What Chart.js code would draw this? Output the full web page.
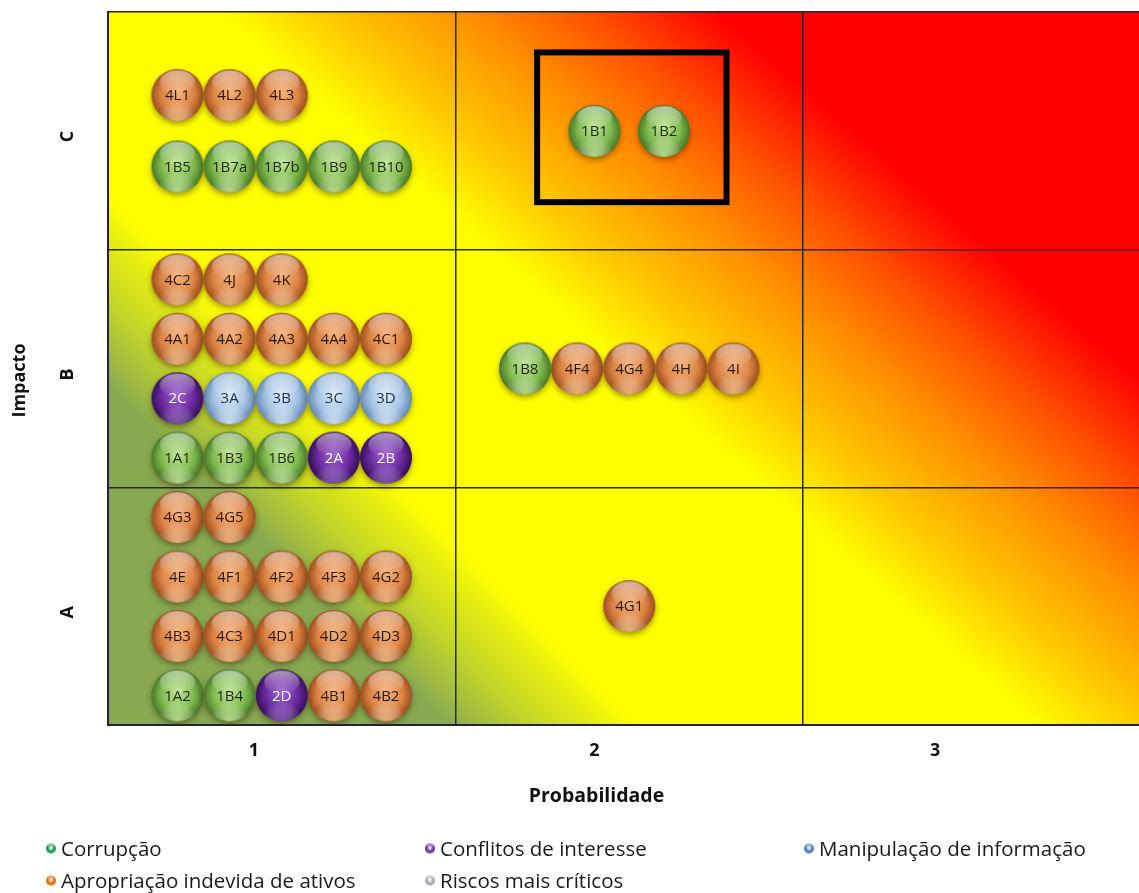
<!DOCTYPE html>
<html lang="pt">
<head>
<meta charset="utf-8">
<title>Matriz de riscos</title>
<script src="https://cdn.jsdelivr.net/npm/chart.js@4.4.1/dist/chart.umd.min.js"></script>
<style>
  html, body { margin: 0; padding: 0; background: #ffffff; }
  #wrap { width: 1139px; height: 893px; position: relative; }
</style>
</head>
<body>
<div id="wrap"><canvas id="matriz"></canvas></div>
<script>
// Rótulos dos eixos
const probabilidadeLabels = ['1', '2', '3'];
const impactoLabels = ['A', 'B', 'C'];

// Riscos por categoria: [código, probabilidade, impacto]
const corrupcao = [
  ['1B5', 0.2, 2.35], ['1B7a', 0.35, 2.35], ['1B7b', 0.5, 2.35], ['1B9', 0.65, 2.35], ['1B10', 0.8, 2.35],
  ['1A1', 0.2, 1.125], ['1B3', 0.35, 1.125], ['1B6', 0.5, 1.125],
  ['1A2', 0.2, 0.125], ['1B4', 0.35, 0.125],
  ['1B8', 1.2, 1.5],
  ['1B1', 1.4, 2.5], ['1B2', 1.6, 2.5]
];
const conflitos = [
  ['2C', 0.2, 1.375], ['2A', 0.65, 1.125], ['2B', 0.8, 1.125], ['2D', 0.5, 0.125]
];
const manipulacao = [
  ['3A', 0.35, 1.375], ['3B', 0.5, 1.375], ['3C', 0.65, 1.375], ['3D', 0.8, 1.375]
];
const apropriacao = [
  ['4L1', 0.2, 2.65], ['4L2', 0.35, 2.65], ['4L3', 0.5, 2.65],
  ['4C2', 0.2, 1.875], ['4J', 0.35, 1.875], ['4K', 0.5, 1.875],
  ['4A1', 0.2, 1.625], ['4A2', 0.35, 1.625], ['4A3', 0.5, 1.625], ['4A4', 0.65, 1.625], ['4C1', 0.8, 1.625],
  ['4G3', 0.2, 0.875], ['4G5', 0.35, 0.875],
  ['4E', 0.2, 0.625], ['4F1', 0.35, 0.625], ['4F2', 0.5, 0.625], ['4F3', 0.65, 0.625], ['4G2', 0.8, 0.625],
  ['4B3', 0.2, 0.375], ['4C3', 0.35, 0.375], ['4D1', 0.5, 0.375], ['4D2', 0.65, 0.375], ['4D3', 0.8, 0.375],
  ['4B1', 0.65, 0.125], ['4B2', 0.8, 0.125],
  ['4F4', 1.35, 1.5], ['4G4', 1.5, 1.5], ['4H', 1.65, 1.5], ['4I', 1.8, 1.5],
  ['4G1', 1.5, 0.5]
];
// Zona dos riscos mais críticos: [prob. mín., impacto mín., prob. máx., impacto máx.]
const riscosCriticos = [1.235, 2.2, 1.78, 2.83];

// ---------- aparência ----------
const FONT = "'Open Sans', 'Noto Sans', sans-serif";
const cores = {
  verde:  { light: '#bfe394', base: '#80ba4e', dark: '#467628', rim: 'rgba(200,236,150,0.8)', text: '#1c2812', legend: '#1e9e4c' },
  roxo:   { light: '#9e62d2', base: '#6a2a9e', dark: '#330e5a', rim: 'rgba(165,115,215,0.6)',  text: '#ffffff', legend: '#7030a0' },
  azul:   { light: '#dcebf9', base: '#a2c2e2', dark: '#6386b2', rim: 'rgba(220,236,252,0.8)', text: '#1d2f48', legend: '#4f81bd' },
  laranja:{ light: '#f3b27c', base: '#dc8444', dark: '#9a4c1e', rim: 'rgba(250,195,130,0.8)', text: '#2e1606', legend: '#e36c0a' },
  cinza:  { light: '#f4f4f8', base: '#b8b8c4', dark: '#6c6c78', rim: 'rgba(240,240,248,0.7)',  text: '#222222', legend: '#a8a8b8' }
};

// Esfera com brilho, usada como marcador
function esfera(c, r, sombra) {
  const pad = sombra ? 8 : 2;
  const size = Math.ceil(2 * r + 2 * pad);
  const cv = document.createElement('canvas');
  cv.width = size; cv.height = size;
  const g = cv.getContext('2d');
  const cx = size / 2, cy = size / 2;
  if (sombra) {
    g.save();
    g.shadowColor = 'rgba(50,30,0,0.5)';
    g.shadowBlur = 6;
    g.shadowOffsetY = 3;
    g.beginPath(); g.arc(cx, cy, r - 0.5, 0, Math.PI * 2);
    g.fillStyle = c.dark; g.fill();
    g.restore();
  }
  g.save();
  g.beginPath(); g.arc(cx, cy, r, 0, Math.PI * 2); g.clip();
  const corpo = g.createRadialGradient(cx, cy - r * 0.15, r * 0.05, cx, cy, r * 1.02);
  corpo.addColorStop(0, c.light);
  corpo.addColorStop(0.6, c.base);
  corpo.addColorStop(1, c.dark);
  g.fillStyle = corpo; g.fillRect(cx - r, cy - r, 2 * r, 2 * r);
  const reflexo = g.createRadialGradient(cx, cy + r * 0.95, 0, cx, cy + r * 0.95, r * 0.75);
  reflexo.addColorStop(0, c.rim);
  reflexo.addColorStop(1, 'rgba(255,255,255,0)');
  g.fillStyle = reflexo; g.fillRect(cx - r, cy - r, 2 * r, 2 * r);
  const brilho = g.createLinearGradient(0, cy - r * 0.95, 0, cy - r * 0.1);
  brilho.addColorStop(0, 'rgba(255,255,255,0.55)');
  brilho.addColorStop(1, 'rgba(255,255,255,0)');
  g.beginPath(); g.ellipse(cx, cy - r * 0.5, r * 0.68, r * 0.45, 0, 0, Math.PI * 2);
  g.fillStyle = brilho; g.fill();
  g.restore();
  return cv;
}

function serie(nome, dados, c) {
  return {
    label: nome,
    data: dados.map(([id, x, y]) => ({ x, y, id })),
    pointStyle: esfera(c, 26, true),
    pointRadius: 26,
    cor: c
  };
}

// Degradê diagonal: t = a*dx + b*dy (px, a partir do canto inferior esquerdo)
function degradeDiagonal(ctx, x0, y0, a, b, paradas) {
  const T = paradas[paradas.length - 1][0];
  const k = T / (a * a + b * b);
  const gr = ctx.createLinearGradient(x0, y0, x0 + k * a, y0 - k * b);
  paradas.forEach(([t, cor]) => gr.addColorStop(t / T, cor));
  return gr;
}

const fundo = {
  id: 'fundo',
  beforeDraw(chart) {
    const { ctx, chartArea: ca, scales: { x, y } } = chart;
    const x0 = x.getPixelForValue(0), y0 = y.getPixelForValue(0);
    ctx.save();
    ctx.beginPath();
    ctx.rect(ca.left, ca.top, ca.right - ca.left, ca.bottom - ca.top);
    ctx.clip();
    ctx.fillStyle = degradeDiagonal(ctx, x0, y0, 1, 1.15, [
      [0, '#ffff00'], [930, '#ffff00'], [1030, '#ffcc00'], [1175, '#ff9000'],
      [1300, '#ff5000'], [1430, '#ff0000'], [1900, '#ff0000']
    ]);
    ctx.fillRect(ca.left, ca.top, ca.right - ca.left, ca.bottom - ca.top);
    ctx.fillStyle = degradeDiagonal(ctx, x0, y0, 1, 1, [
      [0, 'rgba(136,169,80,1)'], [340, 'rgba(136,169,80,1)'], [440, 'rgba(150,185,70,0.5)'],
      [530, 'rgba(136,169,80,0)'], [1800, 'rgba(136,169,80,0)']
    ]);
    ctx.fillRect(ca.left, ca.top, ca.right - ca.left, ca.bottom - ca.top);
    ctx.restore();
  }
};

const rotulos = {
  id: 'rotulos',
  afterDatasetsDraw(chart) {
    const { ctx, scales: { x, y } } = chart;
    ctx.save();
    ctx.font = `15px ${FONT}`;
    ctx.textAlign = 'center';
    ctx.textBaseline = 'middle';
    chart.data.datasets.forEach((ds, i) => {
      const meta = chart.getDatasetMeta(i);
      ctx.fillStyle = ds.cor.text;
      meta.data.forEach((pt, j) => ctx.fillText(ds.data[j].id, pt.x, pt.y + 1));
    });
    // moldura dos riscos mais críticos
    const [pxMin, iMin, pxMax, iMax] = riscosCriticos;
    const l = x.getPixelForValue(pxMin), r = x.getPixelForValue(pxMax);
    const t = y.getPixelForValue(iMax), b = y.getPixelForValue(iMin);
    ctx.lineWidth = 6;
    ctx.strokeStyle = '#000000';
    ctx.strokeRect(l, t, r - l, b - t);
    ctx.restore();
  }
};

const posRotulosProb = [0.42, 1.4, 2.38];

// Títulos dos eixos, centrados no rótulo do meio de cada eixo
const titulos = {
  id: 'titulos',
  afterDraw(chart) {
    const { ctx, scales: { x, y } } = chart;
    ctx.save();
    ctx.font = `bold 19.5px ${FONT}`;
    ctx.fillStyle = '#111111';
    ctx.textAlign = 'center';
    ctx.textBaseline = 'middle';
    ctx.fillText('Probabilidade', x.getPixelForValue(posRotulosProb[1]) + 2, 796);
    ctx.font = `bold 18px ${FONT}`;
    ctx.translate(20, y.getPixelForValue(1.5) + 12);
    ctx.rotate(-Math.PI / 2);
    ctx.fillText('Impacto', 0, 0);
    ctx.restore();
  }
};

// Legenda em grelha de 3 colunas
const legendaColunas = [51, 430, 809];
const legendaLinhas = [848.5, 880.5];
const legenda = {
  id: 'legenda',
  afterDraw(chart) {
    const { ctx } = chart;
    ctx.save();
    ctx.font = `20.5px ${FONT}`;
    ctx.textAlign = 'left';
    ctx.textBaseline = 'alphabetic';
    ctx.fillStyle = '#1a1a1a';
    chart.data.datasets.forEach((ds, i) => {
      const cx = legendaColunas[i % 3], cy = legendaLinhas[Math.floor(i / 3)];
      const c = ds.cor;
      const m = esfera({ light: '#ffffff', base: c.legend, dark: c.legend, rim: 'rgba(255,255,255,0)' }, 5, false);
      ctx.drawImage(m, cx - m.width / 2, cy - m.height / 2);
      ctx.fillText(ds.label, cx + 10, cy + 7.5);
    });
    ctx.restore();
  }
};

const eixoCor = '#262626';
const semMargens = (s) => { s.paddingTop = 0; s.paddingBottom = 0; s.paddingLeft = 0; s.paddingRight = 0; };

new Chart(document.getElementById('matriz'), {
  type: 'scatter',
  data: {
    datasets: [
      serie('Corrupção', corrupcao, cores.verde),
      serie('Conflitos de interesse', conflitos, cores.roxo),
      serie('Manipulação de informação', manipulacao, cores.azul),
      serie('Apropriação indevida de ativos', apropriacao, cores.laranja),
      serie('Riscos mais críticos', [], cores.cinza)
    ]
  },
  options: {
    responsive: true,
    maintainAspectRatio: false,
    animation: false,
    events: [],
    layout: { autoPadding: false, padding: { top: 12, right: 0, bottom: 76, left: 0 } },
    plugins: { legend: { display: false }, tooltip: { enabled: false } },
    scales: {
      x: {
        type: 'linear',
        min: 0,
        max: 2.967,
        afterBuildTicks: (s) => {
          s.ticks = [0, posRotulosProb[0], 1, posRotulosProb[1], 2, posRotulosProb[2]].map(v => ({ value: v }));
        },
        afterFit: (s) => { s.height = 92; semMargens(s); },
        grid: {
          color: (c) => Number.isInteger(c.tick.value) ? eixoCor : 'rgba(0,0,0,0)',
          lineWidth: 1.5,
          drawTicks: false
        },
        border: { color: eixoCor, width: 2 },
        ticks: {
          autoSkip: false,
          maxRotation: 0,
          padding: 15,
          color: '#111111',
          font: { family: FONT, size: 18, weight: 'bold' },
          callback: (v) => {
            const k = posRotulosProb.indexOf(v);
            return k >= 0 ? probabilidadeLabels[k] : '';
          }
        },
        title: { display: false }
      },
      y: {
        type: 'linear',
        min: 0,
        max: 3,
        afterBuildTicks: (s) => {
          s.ticks = [0, 0.5, 1, 1.5, 2, 2.5, 3].map(v => ({ value: v }));
        },
        afterFit: (s) => { s.width = 108; semMargens(s); },
        grid: {
          color: (c) => Number.isInteger(c.tick.value) ? eixoCor : 'rgba(0,0,0,0)',
          lineWidth: 1.5,
          drawTicks: false
        },
        border: { color: eixoCor, width: 2 },
        ticks: {
          autoSkip: false,
          minRotation: 90,
          maxRotation: 90,
          padding: 40,
          color: '#111111',
          font: { family: FONT, size: 18, weight: 'bold' },
          callback: (v) => Number.isInteger(v) ? '' : impactoLabels[Math.floor(v)]
        },
        title: { display: false }
      }
    }
  },
  plugins: [fundo, rotulos, titulos, legenda]
});
</script>
</body>
</html>
